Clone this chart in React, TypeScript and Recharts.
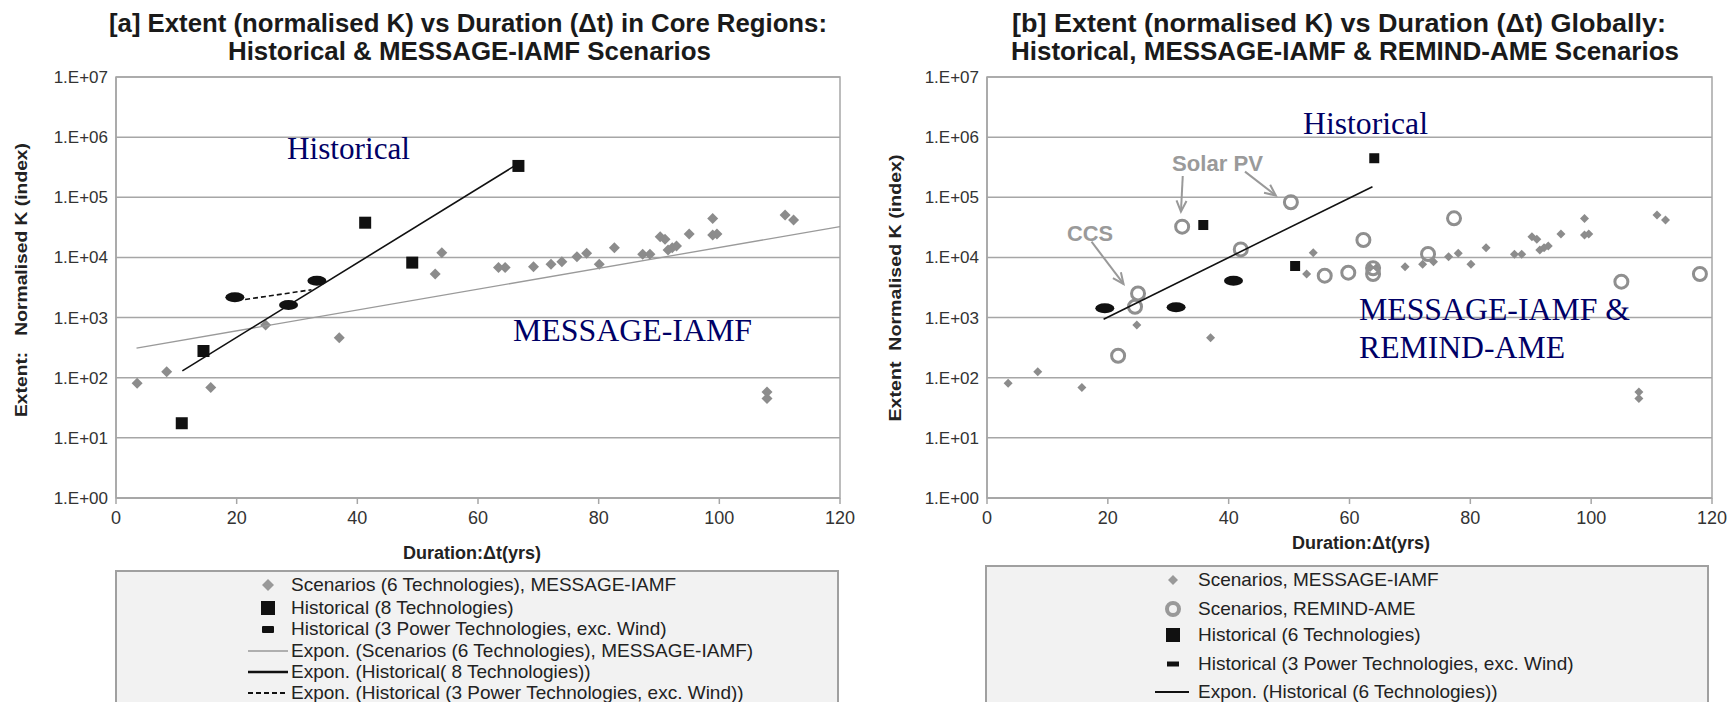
import React from 'react';
import {
  ScatterChart,
  Scatter,
  XAxis,
  YAxis,
  CartesianGrid,
  ReferenceArea,
  ReferenceLine,
} from 'recharts';

type Pt = [number, number];

const X_TICKS = [0, 20, 40, 60, 80, 100, 120];
const Y_TICKS = [1, 10, 100, 1e3, 1e4, 1e5, 1e6, 1e7];

// MESSAGE-IAMF scenario points (same in both panels)
const scenariosMessage: Pt[] = [
  [3.5, 81], [8.4, 126], [15.7, 69], [24.8, 750], [37, 460],
  [52.9, 5300], [54, 12000], [63.4, 6800], [64.5, 6800], [69.2, 7000],
  [72.1, 7700], [73.9, 8500], [76.4, 10300], [78, 11700], [80.1, 7700],
  [82.6, 14500], [87.3, 11300], [88.5, 11300], [90.2, 22000], [91, 20000],
  [91.5, 13300], [92.2, 14500], [92.9, 15500], [95, 24500], [98.9, 44600],
  [98.9, 23600], [99.6, 24500], [110.9, 50800], [112.3, 41900],
  [107.9, 58], [107.9, 45],
];

// panel a
const historical8: Pt[] = [[10.9, 17.5], [14.5, 278], [41.3, 37800], [49.1, 8200], [66.7, 332000]];
const historicalPowerA: Pt[] = [[19.7, 2170], [28.6, 1620], [33.3, 4100]];
const trendScenariosA: Pt[] = [[3.4, 310], [120, 32500]];
const trendHistoricalA: Pt[] = [[11, 130], [66, 330000]];
const trendPowerA: Pt[] = [[21.4, 2000], [32.4, 2900]];

// panel b
const scenariosRemind: Pt[] = [
  [21.7, 232], [24.5, 1515], [25, 2520], [32.3, 32500], [42, 13600],
  [50.3, 82600], [55.9, 4970], [59.8, 5570], [63.9, 6600], [63.9, 5300],
  [62.3, 19500], [73, 11400], [77.3, 44700], [105, 3950], [118, 5300],
];
const historical6: Pt[] = [[35.8, 34600], [51, 7200], [64.1, 446000]];
const historicalPowerB: Pt[] = [[19.5, 1430], [31.3, 1480], [40.8, 4100]];
const trendHistoricalB: Pt[] = [[19.3, 940], [63.8, 150000]];

// annotation arrows (data coordinates: start, end)
const arrowsB: [Pt, Pt][] = [
  [[32.4, 226000], [32.1, 57600]],
  [[42.7, 267000], [47.8, 107000]],
  [[17.3, 18300], [22.6, 3620]],
];

const SANS = '"Liberation Sans", Arial, sans-serif';
const SERIF = '"Liberation Serif", "Times New Roman", serif';
const GRID = '#a6a6a6';

const toXY = (arr: Pt[]) => arr.map(([x, y]) => ({ x, y }));
const fmtY = (v: number) => '1.E+' + String(Math.round(Math.log10(v))).padStart(2, '0');

const diamond = (r: number, fill: string) => (p: any) => (
  <polygon
    points={`${p.cx},${p.cy - r} ${p.cx + r},${p.cy} ${p.cx},${p.cy + r} ${p.cx - r},${p.cy}`}
    fill={fill}
  />
);
const square = (s: number) => (p: any) => (
  <rect x={p.cx - s / 2} y={p.cy - s / 2} width={s} height={s} fill="#111" />
);
const dash = (p: any) => <ellipse cx={p.cx} cy={p.cy} rx={9.5} ry={5} fill="#111" />;
const ring = (p: any) => (
  <circle cx={p.cx} cy={p.cy} r={6.5} fill="none" stroke="#8f8f8f" strokeWidth={3} />
);
const noDot = () => <g />;

const arrowShape = (p: any) => {
  const { x1, y1, x2, y2 } = p;
  const a = Math.atan2(y2 - y1, x2 - x1);
  const L = 11;
  const W = 5;
  const bx = x2 - L * Math.cos(a);
  const by = y2 - L * Math.sin(a);
  const l = `${bx + W * Math.sin(a)},${by - W * Math.cos(a)}`;
  const r = `${bx - W * Math.sin(a)},${by + W * Math.cos(a)}`;
  return (
    <g>
      <line x1={x1} y1={y1} x2={x2} y2={y2} stroke="#999" strokeWidth={2} />
      <polyline points={`${l} ${x2},${y2} ${r}`} fill="none" stroke="#999" strokeWidth={2} />
    </g>
  );
};

const xAxisProps = {
  type: 'number' as const,
  dataKey: 'x',
  domain: [0, 120],
  ticks: X_TICKS,
  height: 30,
  tickSize: 6,
  tickMargin: 7,
  stroke: GRID,
  strokeWidth: 1.5,
  tick: { fontSize: 18, fill: '#333', fontFamily: SANS },
};

const yAxisProps = {
  type: 'number' as const,
  dataKey: 'y',
  scale: 'log' as const,
  domain: [1, 1e7],
  ticks: Y_TICKS,
  allowDataOverflow: true,
  tickLine: false,
  tickSize: 0,
  tickMargin: 8,
  tickFormatter: fmtY,
  stroke: GRID,
  strokeWidth: 1.5,
  tick: { fontSize: 17, fill: '#333', fontFamily: SANS },
};

function PanelA() {
  return (
    <ScatterChart width={870} height={540} margin={{ top: 77, right: 30, bottom: 12, left: 0 }}>
      <CartesianGrid vertical={false} stroke={GRID} strokeWidth={1.5} />
      <XAxis {...xAxisProps} />
      <YAxis {...yAxisProps} width={116} />
      <ReferenceArea x1={0} x2={120} y1={1} y2={1e7} fillOpacity={0} stroke={GRID} strokeWidth={1.5} />
      <Scatter data={toXY(scenariosMessage)} shape={diamond(5.5, '#8c8c8c')} isAnimationActive={false} />
      <Scatter data={toXY(historical8)} shape={square(12)} isAnimationActive={false} />
      <Scatter data={toXY(historicalPowerA)} shape={dash} isAnimationActive={false} />
      <Scatter data={toXY(trendScenariosA)} line={{ stroke: '#9a9a9a', strokeWidth: 1.3 }} shape={noDot} isAnimationActive={false} />
      <Scatter data={toXY(trendHistoricalA)} line={{ stroke: '#111', strokeWidth: 1.6 }} shape={noDot} isAnimationActive={false} />
      <Scatter data={toXY(trendPowerA)} line={{ stroke: '#111', strokeWidth: 1.6, strokeDasharray: '5 3' }} shape={noDot} isAnimationActive={false} />
    </ScatterChart>
  );
}

function PanelB() {
  return (
    <ScatterChart width={866} height={540} margin={{ top: 77, right: 24, bottom: 12, left: 0 }}>
      <CartesianGrid vertical={false} stroke={GRID} strokeWidth={1.5} />
      <XAxis {...xAxisProps} />
      <YAxis {...yAxisProps} width={117} />
      <ReferenceArea x1={0} x2={120} y1={1} y2={1e7} fillOpacity={0} stroke={GRID} strokeWidth={1.5} />
      {arrowsB.map(([s, e], i) => (
        <ReferenceLine key={i} segment={[{ x: s[0], y: s[1] }, { x: e[0], y: e[1] }]} shape={arrowShape} />
      ))}
      <Scatter data={toXY(scenariosMessage)} shape={diamond(4.5, '#8c8c8c')} isAnimationActive={false} />
      <Scatter data={toXY(scenariosRemind)} shape={ring} isAnimationActive={false} />
      <Scatter data={toXY(historical6)} shape={square(10)} isAnimationActive={false} />
      <Scatter data={toXY(historicalPowerB)} shape={dash} isAnimationActive={false} />
      <Scatter data={toXY(trendHistoricalB)} line={{ stroke: '#111', strokeWidth: 1.6 }} shape={noDot} isAnimationActive={false} />
    </ScatterChart>
  );
}

type Row = { icon: string; label: string };

const legendA: Row[] = [
  { icon: 'diamond', label: 'Scenarios (6 Technologies), MESSAGE-IAMF' },
  { icon: 'square', label: 'Historical (8 Technologies)' },
  { icon: 'dash', label: 'Historical (3 Power Technologies, exc. Wind)' },
  { icon: 'grayline', label: 'Expon. (Scenarios (6 Technologies), MESSAGE-IAMF)' },
  { icon: 'line', label: 'Expon. (Historical( 8 Technologies))' },
  { icon: 'dashline', label: 'Expon. (Historical (3 Power Technologies, exc. Wind))' },
];

const legendB: Row[] = [
  { icon: 'smalldiamond', label: 'Scenarios, MESSAGE-IAMF' },
  { icon: 'ring', label: 'Scenarios, REMIND-AME' },
  { icon: 'square', label: 'Historical (6 Technologies)' },
  { icon: 'smalldash', label: 'Historical (3 Power Technologies, exc. Wind)' },
  { icon: 'shortline', label: 'Expon. (Historical (6 Technologies))' },
];

function Icon({ kind }: { kind: string }) {
  const c = 22;
  switch (kind) {
    case 'diamond':
      return <polygon points={`${c},4 ${c + 6},10 ${c},16 ${c - 6},10`} fill="#999" />;
    case 'smalldiamond':
      return <polygon points={`${c},5 ${c + 5},10 ${c},15 ${c - 5},10`} fill="#999" />;
    case 'square':
      return <rect x={c - 7} y={3} width={14} height={14} fill="#111" />;
    case 'dash':
      return <rect x={c - 6} y={7} width={12} height={7} rx={1} fill="#111" />;
    case 'smalldash':
      return <rect x={c - 6} y={7.5} width={12} height={5} fill="#111" />;
    case 'ring':
      return <circle cx={c} cy={10} r={6} fill="none" stroke="#999" strokeWidth={4} />;
    case 'grayline':
      return <line x1={2} y1={10} x2={42} y2={10} stroke="#999" strokeWidth={1.5} />;
    case 'line':
      return <line x1={2} y1={10} x2={42} y2={10} stroke="#111" strokeWidth={2.5} />;
    case 'dashline':
      return <line x1={2} y1={10} x2={42} y2={10} stroke="#111" strokeWidth={2} strokeDasharray="5 3" />;
    case 'shortline':
      return <line x1={4} y1={10} x2={38} y2={10} stroke="#111" strokeWidth={2} />;
    default:
      return null;
  }
}

function LegendBox({
  rows, left, top, centers, iconLeft, textLeft,
}: {
  rows: Row[]; left: number; top: number; centers: number[]; iconLeft: number; textLeft: number;
}) {
  return (
    <div
      style={{
        position: 'absolute', left, top, width: 724, height: 160,
        background: '#f2f2f2', border: '2px solid #a0a0a0', boxSizing: 'border-box',
      }}
    >
      {rows.map((r, i) => (
        <React.Fragment key={r.label}>
          <svg
            width={44}
            height={20}
            style={{ position: 'absolute', left: iconLeft - left - 22, top: centers[i] - top - 10 }}
          >
            <Icon kind={r.icon} />
          </svg>
          <div
            style={{
              position: 'absolute', left: textLeft - left, top: centers[i] - top - 12,
              height: 24, lineHeight: '24px', fontSize: 19, fontFamily: SANS, color: '#222',
              whiteSpace: 'pre',
            }}
          >
            {r.label}
          </div>
        </React.Fragment>
      ))}
    </div>
  );
}

function Overlay() {
  const title = { fontFamily: SANS, fontWeight: 700, fontSize: 25, fill: '#1a1a1a' } as const;
  const note = { fontFamily: SERIF, fontSize: 31, fill: '#000066' } as const;
  const axisT = { fontFamily: SANS, fontWeight: 700, fontSize: 18, fill: '#222' } as const;
  const grayT = { fontFamily: SANS, fontWeight: 700, fontSize: 22, fill: '#9a9a9a' } as const;
  return (
    <svg width={1736} height={702} style={{ position: 'absolute', left: 0, top: 0, pointerEvents: 'none' }}>
      <text x={109} y={32} {...title} textLength={718} lengthAdjust="spacingAndGlyphs">
        [a] Extent (normalised K) vs Duration (Δt) in Core Regions:
      </text>
      <text x={228} y={60} {...title} textLength={483} lengthAdjust="spacingAndGlyphs">
        Historical &amp; MESSAGE-IAMF Scenarios
      </text>
      <text x={1012} y={32} {...title} textLength={654} lengthAdjust="spacingAndGlyphs">
        [b] Extent (normalised K) vs Duration (Δt) Globally:
      </text>
      <text x={1011} y={60} {...title} textLength={668} lengthAdjust="spacingAndGlyphs">
        Historical, MESSAGE-IAMF &amp; REMIND-AME Scenarios
      </text>

      <text x={287} y={159} {...note} textLength={123} lengthAdjust="spacingAndGlyphs">Historical</text>
      <text x={513} y={341} {...note} textLength={239} lengthAdjust="spacingAndGlyphs">MESSAGE-IAMF</text>
      <text x={1303} y={134} {...note} textLength={125} lengthAdjust="spacingAndGlyphs">Historical</text>
      <text x={1359} y={320} {...note} textLength={271} lengthAdjust="spacingAndGlyphs">MESSAGE-IAMF &amp;</text>
      <text x={1359} y={358} {...note} textLength={206} lengthAdjust="spacingAndGlyphs">REMIND-AME</text>

      <text x={1172} y={171} {...grayT} textLength={91} lengthAdjust="spacingAndGlyphs">Solar PV</text>
      <text x={1067} y={241} {...grayT} textLength={46} lengthAdjust="spacingAndGlyphs">CCS</text>

      <text
        x={21} y={280} {...axisT} fontSize={17} textAnchor="middle" dominantBaseline="central"
        transform="rotate(-90 21 280)" textLength={274} lengthAdjust="spacingAndGlyphs"
        style={{ whiteSpace: 'pre' }}
      >
        {'Extent:   Normalised K (index)'}
      </text>
      <text
        x={895} y={288} {...axisT} fontSize={17} textAnchor="middle" dominantBaseline="central"
        transform="rotate(-90 895 288)" textLength={267} lengthAdjust="spacingAndGlyphs"
        style={{ whiteSpace: 'pre' }}
      >
        {'Extent  Normalised K (index)'}
      </text>
      <text x={472} y={553} {...axisT} textAnchor="middle" dominantBaseline="central">Duration:Δt(yrs)</text>
      <text x={1361} y={543} {...axisT} textAnchor="middle" dominantBaseline="central">Duration:Δt(yrs)</text>
    </svg>
  );
}

export default function App() {
  return (
    <div
      style={{
        position: 'absolute', left: 0, top: 0, width: 1736, height: 702,
        background: '#fff', overflow: 'hidden',
      }}
    >
      <div style={{ position: 'absolute', left: 0, top: 0 }}>
        <PanelA />
      </div>
      <div style={{ position: 'absolute', left: 870, top: 0 }}>
        <PanelB />
      </div>
      <LegendBox rows={legendA} left={115} top={570} centers={[583, 606, 627, 649, 670, 691]} iconLeft={266} textLeft={289} />
      <LegendBox rows={legendB} left={985} top={565} centers={[578, 607, 633, 662, 690]} iconLeft={1171} textLeft={1196} />
      <Overlay />
    </div>
  );
}
